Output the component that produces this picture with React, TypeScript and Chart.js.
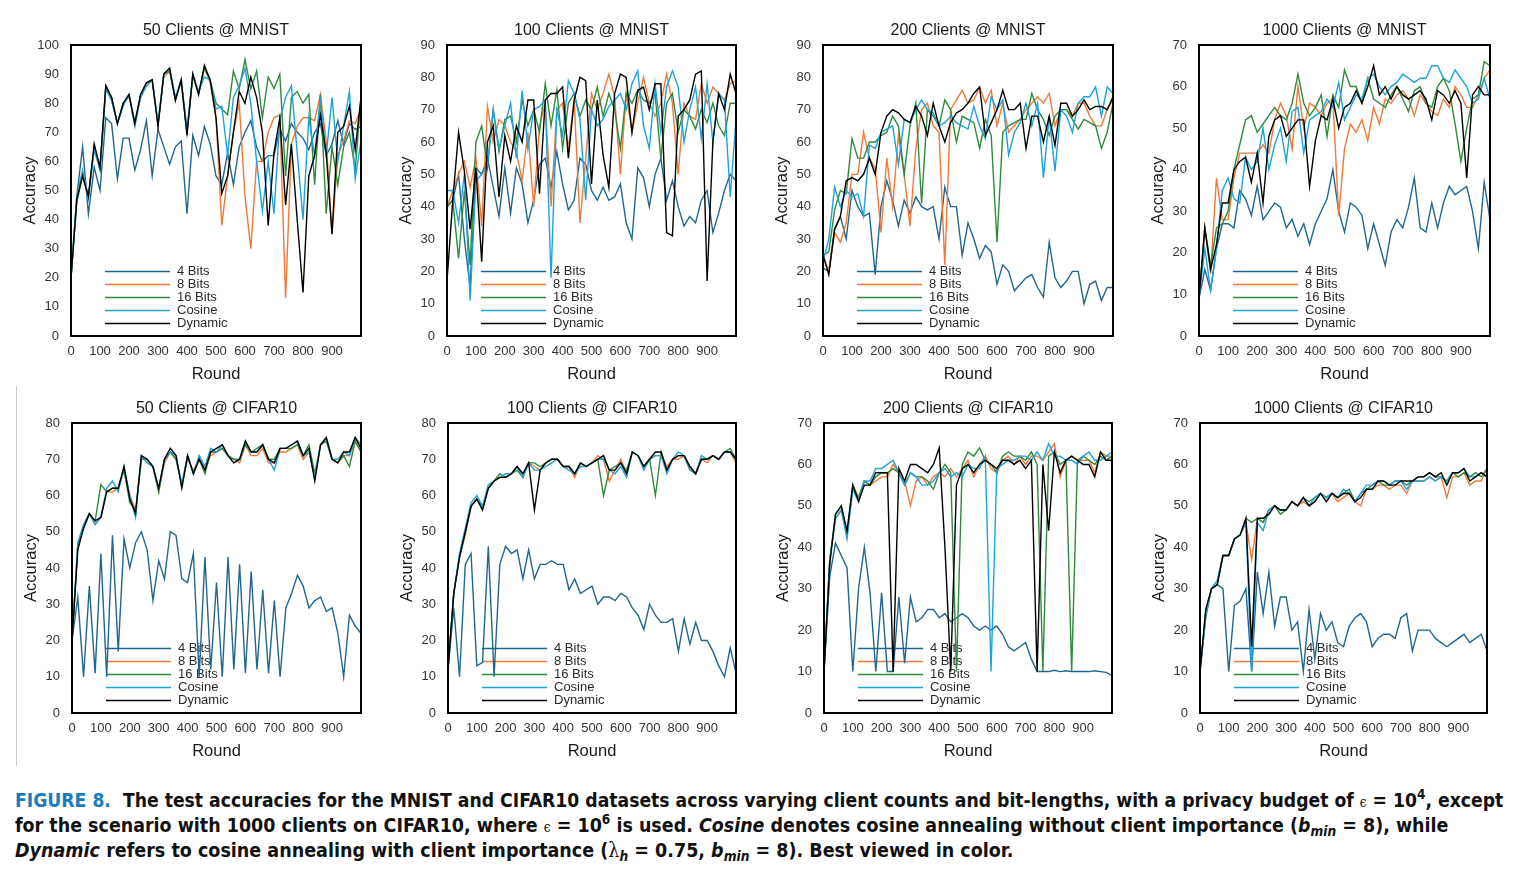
import React, { useEffect, useRef } from "react";
import { Chart, registerables } from "chart.js";

Chart.register(...registerables);
Chart.defaults.font.family = "'Liberation Sans', Arial, sans-serif";

// ---------- data ----------
const ROUNDS = [0, 20, 40, 60, 80, 100, 120, 140, 160, 180, 200, 220, 240, 260, 280, 300, 320, 340, 360, 380, 400, 420, 440, 460, 480, 500, 520, 540, 560, 580, 600, 620, 640, 660, 680, 700, 720, 740, 760, 780, 800, 820, 840, 860, 880, 900, 920, 940, 960, 980, 1000];
const X_TICK_LABELS = ["0", "100", "200", "300", "400", "500", "600", "700", "800", "900"];
const SERIES_LABELS = ["4 Bits", "8 Bits", "16 Bits", "Cosine", "Dynamic"];
const SERIES_COLORS = ["#21668e", "#f07a38", "#2e8a3c", "#1ca3de", "#000000"];

// 50 Clients @ MNIST
const mnist50_b4 = [20, 48, 65, 42, 58, 50, 75, 73, 54, 68, 68, 57, 64, 74, 55, 71, 65, 59, 65, 67, 42, 69, 62, 72, 66, 55, 52, 63, 52, 65, 70, 74, 65, 60, 62, 62, 71, 67, 73, 70, 68, 64, 70, 73, 62, 66, 74, 66, 73, 71, 72];
const mnist50_b8 = [20, 47, 56, 48, 65, 58, 85, 81, 73, 80, 82, 74, 82, 86, 88, 73, 89, 91, 82, 87, 70, 89, 84, 92, 87, 75, 38, 55, 70, 80, 48, 30, 60, 60, 70, 75, 76, 13, 66, 72, 75, 75, 74, 83, 67, 35, 62, 67, 74, 73, 78];
const mnist50_b16 = [20, 46, 55, 48, 65, 57, 86, 82, 73, 80, 83, 73, 83, 87, 88, 73, 90, 91, 81, 88, 70, 90, 83, 92, 88, 80, 78, 76, 91, 85, 95, 85, 91, 75, 89, 85, 90, 55, 82, 84, 80, 83, 52, 83, 42, 65, 52, 65, 70, 57, 82];
const mnist50_cos = [20, 48, 57, 47, 64, 57, 85, 81, 73, 79, 83, 72, 82, 86, 88, 73, 90, 92, 82, 88, 71, 90, 84, 89, 88, 78, 79, 62, 82, 86, 92, 80, 60, 43, 60, 42, 74, 82, 86, 63, 40, 75, 62, 82, 62, 82, 60, 72, 84, 54, 67];
const mnist50_dyn = [20, 47, 55, 48, 66, 58, 86, 82, 73, 80, 83, 73, 83, 87, 88, 72, 90, 92, 81, 88, 69, 90, 83, 93, 88, 75, 49, 55, 70, 84, 80, 89, 82, 70, 38, 63, 75, 45, 66, 40, 15, 55, 62, 76, 63, 35, 70, 72, 79, 64, 82];

// 100 Clients @ MNIST
const mnist100_b4 = [40, 42, 50, 30, 15, 52, 50, 55, 46, 37, 52, 38, 52, 47, 35, 42, 53, 55, 46, 57, 47, 39, 42, 55, 53, 45, 42, 46, 42, 43, 47, 35, 30, 52, 49, 40, 50, 55, 42, 48, 40, 34, 37, 35, 42, 45, 32, 38, 45, 50, 48];
const mnist100_b8 = [40, 45, 50, 54, 46, 55, 34, 71, 60, 67, 65, 60, 57, 48, 63, 40, 65, 72, 40, 70, 72, 58, 73, 35, 55, 75, 70, 75, 81, 74, 50, 75, 63, 72, 80, 72, 68, 72, 81, 72, 50, 72, 68, 67, 78, 72, 77, 75, 73, 78, 79];
const mnist100_b16 = [40, 42, 24, 45, 22, 60, 65, 52, 70, 57, 67, 68, 60, 73, 65, 70, 63, 78, 65, 76, 58, 72, 75, 68, 73, 70, 77, 68, 75, 70, 58, 75, 72, 76, 73, 72, 75, 55, 72, 75, 63, 70, 68, 64, 70, 66, 72, 65, 62, 72, 72];
const mnist100_cos = [45, 45, 35, 50, 11, 48, 50, 53, 70, 58, 65, 72, 55, 76, 58, 70, 71, 73, 18, 70, 62, 79, 75, 67, 42, 70, 65, 67, 71, 73, 75, 70, 78, 82, 65, 58, 78, 63, 77, 82, 77, 60, 70, 77, 61, 78, 60, 75, 73, 43, 67];
const mnist100_dyn = [17, 42, 63, 51, 33, 52, 23, 60, 65, 43, 62, 54, 65, 60, 73, 73, 44, 73, 75, 75, 77, 55, 73, 80, 79, 47, 73, 56, 46, 75, 81, 80, 63, 76, 77, 70, 78, 78, 32, 31, 68, 70, 73, 81, 82, 17, 60, 75, 70, 81, 75];

// 200 Clients @ MNIST
const mnist200_b4 = [21, 20, 33, 37, 30, 45, 40, 37, 38, 19, 40, 48, 42, 34, 42, 38, 43, 40, 39, 40, 30, 46, 40, 40, 25, 35, 30, 24, 28, 26, 16, 22, 20, 14, 16, 18, 19, 15, 12, 29, 18, 15, 17, 20, 20, 10, 16, 17, 11, 15, 15];
const mnist200_b8 = [25, 20, 32, 29, 35, 50, 50, 63, 55, 52, 32, 55, 40, 62, 50, 34, 58, 70, 72, 65, 63, 22, 70, 73, 76, 72, 73, 77, 72, 76, 65, 72, 63, 65, 67, 70, 72, 74, 72, 75, 65, 70, 70, 68, 72, 72, 68, 65, 65, 70, 73];
const mnist200_b16 = [25, 26, 39, 45, 44, 61, 55, 55, 60, 60, 62, 63, 68, 65, 50, 65, 72, 41, 70, 68, 65, 73, 70, 60, 68, 67, 66, 58, 67, 62, 29, 63, 65, 66, 67, 67, 75, 70, 67, 62, 68, 70, 70, 67, 64, 67, 66, 65, 58, 63, 72];
const mnist200_cos = [23, 30, 46, 40, 45, 43, 44, 37, 59, 58, 63, 64, 65, 53, 67, 66, 70, 73, 70, 69, 65, 66, 68, 66, 65, 64, 71, 65, 61, 74, 70, 73, 56, 63, 66, 72, 65, 72, 49, 68, 51, 70, 68, 63, 72, 74, 74, 77, 68, 77, 75];
const mnist200_dyn = [25, 19, 33, 37, 48, 49, 48, 50, 55, 50, 63, 68, 70, 69, 67, 66, 71, 68, 62, 72, 65, 60, 66, 69, 70, 72, 75, 77, 62, 66, 70, 76, 70, 70, 72, 58, 68, 68, 60, 68, 59, 72, 72, 68, 70, 73, 70, 71, 71, 70, 74];

// 1000 Clients @ MNIST
const mnist1000_b4 = [9, 16, 11, 21, 27, 27, 26, 35, 33, 29, 36, 28, 30, 32, 31, 26, 28, 24, 27, 22, 27, 30, 33, 40, 30, 25, 32, 31, 29, 21, 27, 22, 17, 25, 28, 26, 31, 38, 26, 25, 32, 26, 32, 36, 34, 35, 36, 30, 21, 37, 28];
const mnist1000_b8 = [9, 26, 15, 38, 28, 28, 38, 44, 44, 44, 44, 46, 44, 52, 56, 53, 45, 60, 50, 56, 55, 53, 56, 57, 29, 45, 51, 49, 52, 47, 55, 51, 57, 56, 58, 59, 57, 53, 58, 56, 54, 53, 57, 55, 60, 58, 55, 55, 58, 62, 64];
const mnist1000_b16 = [9, 26, 17, 26, 27, 30, 40, 46, 52, 53, 49, 51, 53, 55, 53, 52, 56, 63, 56, 53, 55, 58, 48, 58, 55, 64, 60, 60, 56, 62, 57, 56, 55, 58, 60, 57, 54, 59, 60, 56, 55, 60, 62, 59, 51, 42, 50, 57, 58, 66, 65];
const mnist1000_cos = [9, 21, 11, 21, 35, 38, 33, 32, 43, 40, 42, 50, 40, 46, 50, 42, 54, 55, 44, 52, 53, 54, 57, 55, 61, 52, 55, 58, 57, 62, 63, 60, 58, 60, 61, 63, 62, 61, 62, 62, 65, 65, 62, 61, 64, 62, 60, 56, 57, 62, 57];
const mnist1000_dyn = [9, 26, 16, 22, 32, 32, 40, 42, 43, 37, 44, 32, 48, 52, 53, 48, 50, 52, 52, 36, 47, 53, 52, 57, 50, 55, 56, 59, 56, 60, 65, 58, 60, 57, 60, 58, 57, 58, 59, 57, 52, 59, 58, 56, 59, 56, 38, 58, 60, 58, 58];

// 50 Clients @ CIFAR10
const cifar50_b4 = [20, 32, 10, 35, 11, 44, 10, 49, 17, 48, 40, 47, 50, 45, 31, 42, 37, 50, 49, 37, 36, 44, 10, 43, 12, 36, 10, 43, 12, 41, 11, 39, 12, 34, 11, 31, 10, 29, 33, 38, 35, 29, 31, 32, 28, 29, 22, 10, 27, 24, 22];
const cifar50_b8 = [20, 46, 52, 55, 52, 54, 61, 61, 62, 67, 60, 56, 70, 70, 68, 61, 69, 72, 70, 63, 70, 67, 70, 68, 71, 72, 73, 71, 70, 69, 74, 71, 71, 73, 69, 69, 72, 72, 73, 74, 70, 72, 65, 74, 75, 70, 69, 71, 71, 75, 72];
const cifar50_b16 = [20, 46, 51, 55, 53, 63, 61, 62, 62, 67, 58, 56, 70, 70, 68, 61, 70, 72, 70, 63, 71, 66, 70, 66, 72, 72, 73, 71, 70, 70, 74, 72, 73, 74, 70, 70, 73, 73, 73, 74, 71, 74, 66, 74, 75, 70, 69, 71, 68, 75, 72];
const cifar50_cos = [20, 47, 52, 55, 52, 54, 62, 64, 61, 68, 60, 54, 71, 69, 68, 62, 70, 72, 71, 63, 71, 66, 71, 68, 73, 72, 74, 71, 69, 70, 75, 72, 72, 74, 70, 67, 73, 73, 74, 75, 71, 72, 65, 74, 76, 70, 70, 72, 71, 76, 74];
const cifar50_dyn = [20, 45, 51, 55, 53, 54, 61, 62, 62, 68, 59, 55, 71, 70, 68, 62, 70, 73, 71, 62, 71, 66, 70, 67, 72, 73, 74, 71, 69, 70, 75, 72, 72, 74, 70, 69, 73, 73, 74, 75, 71, 73, 64, 74, 76, 70, 69, 72, 72, 76, 73];

// 100 Clients @ CIFAR10
const cifar100_b4 = [12, 29, 10, 41, 44, 13, 14, 46, 10, 41, 46, 44, 45, 37, 45, 37, 41, 41, 42, 41, 41, 34, 37, 33, 34, 35, 30, 32, 32, 31, 33, 32, 29, 27, 23, 30, 27, 25, 25, 26, 17, 26, 19, 25, 20, 20, 17, 13, 10, 18, 11];
const cifar100_b8 = [12, 33, 43, 49, 57, 59, 57, 62, 64, 65, 65, 66, 68, 65, 69, 68, 67, 69, 70, 70, 68, 68, 65, 69, 68, 69, 71, 70, 64, 67, 70, 66, 72, 71, 68, 70, 71, 71, 68, 70, 70, 71, 67, 66, 70, 69, 71, 70, 72, 72, 69];
const cifar100_b16 = [12, 33, 43, 50, 57, 59, 57, 62, 64, 66, 65, 66, 67, 65, 69, 69, 68, 69, 70, 70, 68, 68, 66, 69, 68, 69, 70, 60, 67, 68, 69, 67, 72, 71, 68, 70, 60, 72, 67, 70, 71, 71, 68, 66, 70, 70, 71, 70, 72, 73, 70];
const cifar100_cos = [12, 33, 44, 51, 58, 60, 57, 63, 64, 65, 66, 66, 68, 65, 69, 67, 67, 68, 69, 70, 68, 67, 66, 68, 68, 69, 70, 70, 67, 66, 68, 65, 72, 71, 67, 70, 71, 71, 66, 70, 72, 71, 67, 66, 71, 70, 71, 70, 72, 72, 70];
const cifar100_dyn = [12, 33, 43, 50, 57, 59, 56, 62, 64, 65, 65, 66, 68, 66, 69, 56, 67, 69, 70, 70, 68, 68, 66, 69, 68, 69, 70, 71, 67, 67, 69, 66, 72, 71, 68, 70, 72, 72, 67, 70, 71, 71, 68, 66, 70, 70, 71, 70, 72, 72, 70];

// 200 Clients @ CIFAR10
const cifar200_b4 = [10, 33, 41, 38, 35, 10, 30, 40, 29, 10, 29, 10, 10, 28, 12, 28, 22, 23, 25, 25, 23, 24, 22, 23, 24, 23, 21, 20, 21, 20, 21, 19, 16, 15, 16, 17, 13, 10, 10, 10, 10.3, 10, 10.2, 10, 10, 10, 10, 10.2, 10, 9.8, 9];
const cifar200_b8 = [10, 37, 47, 49, 43, 54, 52, 56, 55, 56, 57, 57, 60, 58, 56, 50, 56, 57, 55, 57, 58, 57, 59, 57, 59, 61, 57, 60, 62, 59, 58, 61, 62, 60, 62, 60, 62, 62, 61, 63, 65, 57, 61, 62, 61, 61, 61, 58, 63, 62, 62];
const cifar200_b16 = [10, 37, 48, 50, 43, 55, 52, 56, 55, 57, 58, 58, 59, 58, 55, 58, 57, 57, 56, 54, 58, 60, 58, 10, 60, 63, 62, 64, 61, 60, 58, 62, 63, 62, 62, 61, 63, 60, 10, 62, 63, 60, 61, 10, 61, 62, 61, 60, 62, 61, 62];
const cifar200_cos = [10, 37, 47, 49, 42, 54, 51, 56, 56, 59, 59, 60, 61, 58, 55, 58, 57, 55, 55, 56, 58, 59, 57, 58, 57, 60, 59, 59, 62, 10, 59, 60, 61, 61, 62, 62, 61, 63, 61, 65, 62, 62, 61, 61, 60, 62, 63, 61, 61, 62, 63];
const cifar200_dyn = [10, 36, 48, 50, 44, 55, 51, 55, 55, 58, 58, 58, 10, 59, 56, 60, 60, 59, 58, 60, 64, 40, 10, 55, 59, 60, 58, 60, 61, 60, 59, 61, 61, 60, 61, 59, 61, 10, 60, 44, 63, 58, 61, 62, 61, 60, 60, 57, 63, 61, 61];

// 1000 Clients @ CIFAR10
const cifar1000_b4 = [10, 23, 30, 31, 30, 10, 26, 27, 30, 10, 34, 24, 34, 21, 28, 28, 20, 22, 10, 25, 13, 24, 20, 22, 17, 16, 21, 23, 24, 22, 16, 18, 19, 19, 18, 23, 24, 15, 20, 20, 20, 18, 17, 16, 17, 18, 19, 17, 18, 19, 15];
const cifar1000_b8 = [10, 24, 30, 31, 38, 38, 42, 43, 46, 37, 47, 46, 49, 50, 49, 49, 51, 50, 51, 50, 51, 53, 52, 53, 51, 52, 53, 51, 50, 54, 54, 55, 55, 54, 55, 55, 53, 56, 56, 56, 57, 56, 57, 52, 57, 57, 58, 55, 56, 56, 59];
const cifar1000_b16 = [10, 24, 30, 31, 38, 38, 42, 43, 47, 46, 47, 46, 49, 50, 48, 49, 51, 50, 52, 51, 52, 53, 52, 53, 52, 53, 54, 51, 53, 54, 55, 56, 55, 55, 56, 56, 55, 56, 57, 57, 58, 57, 57, 56, 58, 57, 58, 57, 58, 57, 59];
const cifar1000_cos = [10, 24, 30, 32, 38, 38, 42, 43, 46, 10, 46, 44, 49, 50, 49, 49, 51, 50, 52, 50, 52, 53, 52, 53, 52, 54, 53, 51, 53, 55, 55, 56, 56, 55, 56, 56, 54, 56, 56, 56, 57, 56, 57, 56, 58, 58, 59, 57, 57, 58, 57];
const cifar1000_dyn = [10, 25, 30, 31, 38, 38, 42, 43, 47, 16, 47, 47, 48, 50, 49, 49, 51, 50, 52, 50, 51, 53, 51, 53, 52, 53, 53, 51, 52, 54, 54, 56, 56, 55, 55, 56, 56, 56, 57, 57, 58, 57, 58, 55, 58, 58, 59, 56, 57, 58, 57];

// ---------- layout ----------
type PanelSpec = {
  title: string;
  yMax: number;
  series: number[][];
  left: number;
  top: number;
  right: number;
  bottom: number;
};

const PANELS: PanelSpec[] = [
  { title: "50 Clients @ MNIST", yMax: 100, series: [mnist50_b4, mnist50_b8, mnist50_b16, mnist50_cos, mnist50_dyn], left: 71, top: 45, right: 363, bottom: 336 },
  { title: "100 Clients @ MNIST", yMax: 90, series: [mnist100_b4, mnist100_b8, mnist100_b16, mnist100_cos, mnist100_dyn], left: 447, top: 45, right: 738, bottom: 336 },
  { title: "200 Clients @ MNIST", yMax: 90, series: [mnist200_b4, mnist200_b8, mnist200_b16, mnist200_cos, mnist200_dyn], left: 823, top: 45, right: 1115, bottom: 336 },
  { title: "1000 Clients @ MNIST", yMax: 70, series: [mnist1000_b4, mnist1000_b8, mnist1000_b16, mnist1000_cos, mnist1000_dyn], left: 1199, top: 45, right: 1492, bottom: 336 },
  { title: "50 Clients @ CIFAR10", yMax: 80, series: [cifar50_b4, cifar50_b8, cifar50_b16, cifar50_cos, cifar50_dyn], left: 72, top: 423, right: 363, bottom: 713 },
  { title: "100 Clients @ CIFAR10", yMax: 80, series: [cifar100_b4, cifar100_b8, cifar100_b16, cifar100_cos, cifar100_dyn], left: 448, top: 423, right: 738, bottom: 713 },
  { title: "200 Clients @ CIFAR10", yMax: 70, series: [cifar200_b4, cifar200_b8, cifar200_b16, cifar200_cos, cifar200_dyn], left: 824, top: 423, right: 1114, bottom: 713 },
  { title: "1000 Clients @ CIFAR10", yMax: 70, series: [cifar1000_b4, cifar1000_b8, cifar1000_b16, cifar1000_cos, cifar1000_dyn], left: 1200, top: 423, right: 1489, bottom: 713 },
];

const Y_W = 50;
const X_H = 49;
const PAD_TOP = 27;
const PAD_RIGHT = 6;
const FONT = "'Liberation Sans', Arial, sans-serif";

function makeDecorPlugin(title: string) {
  return {
    id: "panelDecor",
    beforeDatasetsDraw(chart: any) {
      const { ctx, chartArea: a } = chart;
      ctx.save();
      ctx.font = `13px ${FONT}`;
      ctx.textBaseline = "middle";
      ctx.textAlign = "left";
      SERIES_LABELS.forEach((label, i) => {
        const y = Math.round(a.bottom - 65 + i * 13.1) + 0.5;
        ctx.strokeStyle = SERIES_COLORS[i];
        ctx.lineWidth = 1.5;
        ctx.beginPath();
        ctx.moveTo(a.left + 34, y);
        ctx.lineTo(a.left + 99, y);
        ctx.stroke();
        ctx.fillStyle = "#2a2a2a";
        ctx.fillText(label, a.left + 106, y);
      });
      ctx.restore();
    },
    afterDraw(chart: any) {
      const { ctx, chartArea: a } = chart;
      ctx.save();
      ctx.strokeStyle = "#000";
      ctx.lineWidth = 2;
      ctx.strokeRect(a.left, a.top, a.right - a.left, a.bottom - a.top);
      ctx.font = `16px ${FONT}`;
      ctx.fillStyle = "#1a1a1a";
      ctx.textAlign = "center";
      ctx.textBaseline = "middle";
      ctx.fillText(title, (a.left + a.right) / 2, a.top - 14);
      ctx.restore();
    },
  };
}

function ChartPanel({ spec }: { spec: PanelSpec }) {
  const ref = useRef<HTMLCanvasElement | null>(null);
  const width = spec.right - spec.left + Y_W + PAD_RIGHT;
  const height = spec.bottom - spec.top + PAD_TOP + X_H;

  useEffect(() => {
    if (!ref.current) return;
    const chart = new Chart(ref.current, {
      type: "line",
      data: {
        datasets: spec.series.map((ys, i) => ({
          label: SERIES_LABELS[i],
          data: ROUNDS.map((x, j) => ({ x, y: ys[j] })),
          borderColor: SERIES_COLORS[i],
          backgroundColor: SERIES_COLORS[i],
          borderWidth: 1.4,
          pointRadius: 0,
          tension: 0,
          fill: false,
          order: 4 - i,
        })),
      },
      options: {
        responsive: false,
        animation: false,
        events: [],
        layout: { padding: { top: PAD_TOP, right: PAD_RIGHT, left: 0, bottom: 0 } },
        plugins: {
          legend: { display: false },
          title: { display: false },
          tooltip: { enabled: false },
        },
        scales: {
          x: {
            type: "linear",
            min: 0,
            max: 1000,
            grid: { display: false, drawTicks: false },
            border: { display: false },
            ticks: {
              stepSize: 100,
              autoSkip: false,
              maxRotation: 0,
              padding: 8,
              color: "#333",
              font: { size: 13 },
              callback: (v: any) => {
                const idx = Math.round(Number(v) / 100);
                return idx < X_TICK_LABELS.length ? X_TICK_LABELS[idx] : "";
              },
            },
            title: {
              display: true,
              text: "Round",
              color: "#1a1a1a",
              font: { size: 16.5 },
              padding: { top: 4, bottom: 1 },
            },
            afterFit: (s: any) => {
              s.height = X_H;
            },
          },
          y: {
            min: 0,
            max: spec.yMax,
            grid: { display: false, drawTicks: false },
            border: { display: false },
            ticks: { stepSize: 10, padding: 12, color: "#333", font: { size: 13 } },
            title: {
              display: true,
              text: "Accuracy",
              color: "#1a1a1a",
              font: { size: 16.5 },
              padding: 0,
            },
            afterFit: (s: any) => {
              s.width = Y_W;
            },
          },
        },
      },
      plugins: [makeDecorPlugin(spec.title)],
    } as any);
    return () => chart.destroy();
  }, [spec]);

  return (
    <canvas
      ref={ref}
      width={width}
      height={height}
      style={{
        position: "absolute",
        left: spec.left - Y_W,
        top: spec.top - PAD_TOP,
        width,
        height,
      }}
    />
  );
}

const epsStyle: React.CSSProperties = {
  fontFamily: "'DejaVu Serif', serif",
  fontWeight: "normal",
  fontSize: 14,
};
const supStyle: React.CSSProperties = { fontSize: "0.7em", lineHeight: 0, verticalAlign: "0.55em" };
const subStyle: React.CSSProperties = { fontSize: "0.7em", lineHeight: 0, verticalAlign: "-0.3em" };
const lineStyle = (sx: number): React.CSSProperties => ({
  transform: `scaleX(${sx})`,
  transformOrigin: "0 0",
  height: 25,
});

export default function App() {
  return (
    <div
      style={{
        position: "absolute",
        left: 0,
        top: 0,
        width: 1519,
        height: 883,
        overflow: "hidden",
        background: "#fff",
      }}
    >
      {PANELS.map((p) => (
        <ChartPanel key={p.title} spec={p} />
      ))}
      <div style={{ position: "absolute", left: 16, top: 386, width: 1, height: 380, background: "#cfcfcf" }} />
      <div
        style={{
          position: "absolute",
          left: 15,
          top: 788,
          fontFamily: "'Liberation Sans Narrow', 'DejaVu Sans Condensed', 'Liberation Sans', sans-serif",
          fontStretch: "condensed",
          fontWeight: "bold",
          fontSize: 20,
          lineHeight: "25px",
          color: "#111",
          whiteSpace: "nowrap",
        }}
      >
        <div style={lineStyle(0.958)}>
          <span style={{ color: "#1a7bc0" }}>FIGURE 8.</span>&nbsp; The test accuracies for the MNIST and CIFAR10 datasets across varying client counts and bit-lengths, with a privacy budget of{" "}
          <span style={epsStyle}>ϵ</span> = 10<span style={supStyle}>4</span>, except
        </div>
        <div style={lineStyle(0.972)}>
          for the scenario with 1000 clients on CIFAR10, where <span style={epsStyle}>ϵ</span> = 10<span style={supStyle}>6</span> is used. <i>Cosine</i> denotes cosine annealing without client importance (<i>b</i>
          <i style={subStyle}>min</i> = 8), while
        </div>
        <div style={lineStyle(0.975)}>
          <i>Dynamic</i> refers to cosine annealing with client importance (<span style={{ fontFamily: "'DejaVu Serif', serif", fontWeight: "normal" }}>λ</span>
          <i style={subStyle}>h</i> = 0.75, <i>b</i>
          <i style={subStyle}>min</i> = 8). Best viewed in color.
        </div>
      </div>
    </div>
  );
}
